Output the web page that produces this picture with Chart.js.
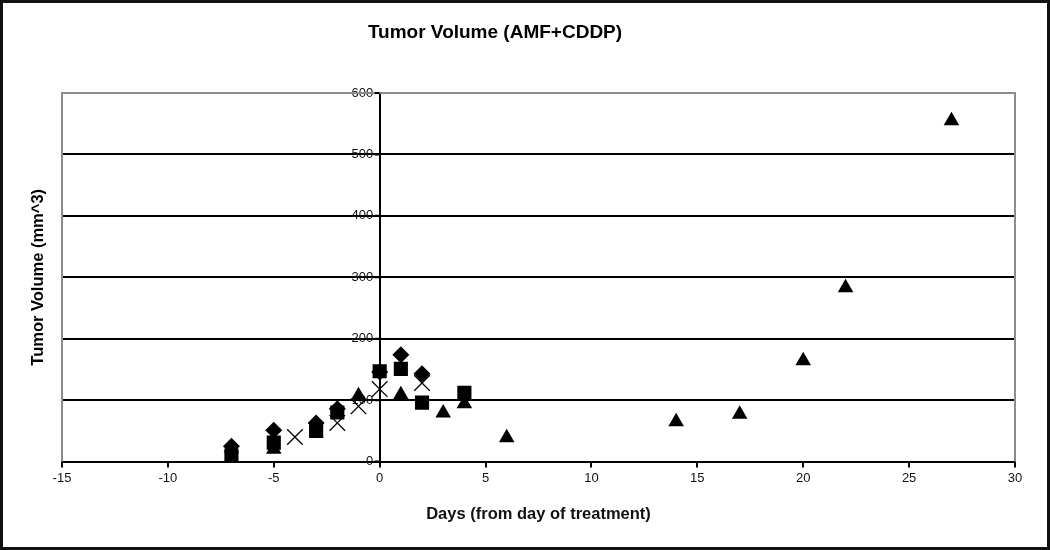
<!DOCTYPE html>
<html>
<head>
<meta charset="utf-8">
<title>Tumor Volume (AMF+CDDP)</title>
<script src="https://cdn.jsdelivr.net/npm/chart.js@4/dist/chart.umd.min.js"></script>
<style>
  html, body { margin: 0; padding: 0; background: #fff; }
  #wrap { width: 1050px; height: 550px; }
</style>
</head>
<body>
<div id="wrap"><canvas id="tumor-chart" width="1050" height="550"></canvas></div>
<script>
/* Tumor volume scatter, one series per animal */

const chartTitle = 'Tumor Volume (AMF+CDDP)';
const xTitle = 'Days (from day of treatment)';
const yTitle = 'Tumor Volume (mm^3)';

const xTicks = [-15, -10, -5, 0, 5, 10, 15, 20, 25, 30];
const yTicks = [0, 100, 200, 300, 400, 500, 600];

// diamonds
const daysA = [-7, -5, -3, -2, 0, 1, 2];
const volA  = [25, 51, 63, 86, 146, 174, 143];
// squares
const daysB = [-7, -5, -3, -2, 0, 1, 2, 4];
const volB  = [10, 31, 50, 80, 147, 151, 96, 112];
// triangles
const daysC = [-7, -5, -1, 1, 3, 4, 6, 14, 17, 20, 22, 27];
const volC  = [22, 20, 107, 109, 79, 94, 39, 65, 77, 164, 283, 555];
// crosses
const daysD = [-4, -2, -1, 0, 2];
const volD  = [40, 63, 90, 118, 128];

const pts = (xs, ys) => xs.map((x, i) => ({ x: x, y: ys[i] }));

const NARROW = "'Liberation Sans Narrow', 'Arial Narrow', 'Liberation Sans', Arial, sans-serif";
const SANS = "'Liberation Sans', Arial, sans-serif";

// title, y title, plot frame and outer border
const decor = {
  id: 'decor',
  afterDraw(chart) {
    const ctx = chart.ctx;
    const a = chart.chartArea;
    const y0 = chart.scales.x.getPixelForValue(0);
    ctx.save();
    ctx.strokeStyle = '#8c8c8c';
    ctx.lineWidth = 2;
    ctx.beginPath();
    ctx.moveTo(a.left, a.bottom);
    ctx.lineTo(a.left, a.top);
    ctx.lineTo(a.right, a.top);
    ctx.lineTo(a.right, a.bottom);
    ctx.stroke();

    // small tick marks left of the y axis
    ctx.strokeStyle = '#000';
    ctx.beginPath();
    yTicks.forEach(v => {
      const py = chart.scales.y.getPixelForValue(v);
      ctx.moveTo(y0 - 5, py);
      ctx.lineTo(y0, py);
    });
    ctx.stroke();

    ctx.strokeStyle = '#111';
    ctx.lineWidth = 3;
    ctx.strokeRect(1.5, 1.5, chart.width - 3, chart.height - 3);

    ctx.fillStyle = '#000';
    ctx.textAlign = 'center';
    ctx.textBaseline = 'middle';
    ctx.font = 'bold 19px ' + SANS;
    ctx.fillText(chartTitle, 495, 33);

    ctx.translate(38, (a.top + a.bottom) / 2);
    ctx.rotate(-Math.PI / 2);
    ctx.font = 'bold 16.5px ' + SANS;
    ctx.fillText(yTitle, 0, 0);
    ctx.restore();
  }
};

const common = {
  backgroundColor: '#000',
  borderColor: '#000',
  pointBorderWidth: 0,
  pointHoverRadius: 9
};

new Chart(document.getElementById('tumor-chart').getContext('2d'), {
  type: 'scatter',
  data: {
    datasets: [
      Object.assign({}, common, { label: 'D', data: pts(daysD, volD), pointStyle: 'crossRot', pointRadius: 11, pointBorderWidth: 1.3 }),
      Object.assign({}, common, { label: 'C', data: pts(daysC, volC), pointStyle: 'triangle', pointRadius: 9 }),
      Object.assign({}, common, { label: 'B', data: pts(daysB, volB), pointStyle: 'rect', pointRadius: 10 }),
      Object.assign({}, common, { label: 'A', data: pts(daysA, volA), pointStyle: 'rectRot', pointRadius: 8.5 })
    ]
  },
  options: {
    responsive: false,
    animation: false,
    layout: { padding: { top: 93, left: 62, right: 35, bottom: 26 } },
    plugins: {
      legend: { display: false },
      title: { display: false },
      tooltip: { enabled: true }
    },
    scales: {
      x: {
        type: 'linear',
        min: -15,
        max: 30,
        afterBuildTicks: s => { s.ticks = xTicks.map(v => ({ value: v })); },
        border: { color: '#000', width: 2 },
        grid: { drawOnChartArea: false, drawTicks: true, tickLength: 6, color: '#000', lineWidth: 2 },
        ticks: { color: '#111', padding: 3, font: { family: NARROW, size: 13 } },
        title: {
          display: true,
          text: xTitle,
          color: '#111',
          padding: { top: 15, bottom: 0 },
          font: { family: SANS, size: 16.5, weight: 'bold' }
        }
      },
      y: {
        type: 'linear',
        position: { x: 0 },
        min: 0,
        max: 600,
        afterBuildTicks: s => { s.ticks = yTicks.map(v => ({ value: v })); },
        border: { color: '#000', width: 2 },
        grid: {
          color: ctx => (ctx.tick && ctx.tick.value === 600 ? '#8c8c8c' : '#000'),
          lineWidth: 2,
          drawTicks: false
        },
        ticks: {
          color: '#111',
          font: { family: NARROW, size: 13 },
          // labels sit just left of the axis line
          callback: v => v + '\u2002'
        }
      }
    }
  },
  plugins: [decor]
});
</script>
</body>
</html>
